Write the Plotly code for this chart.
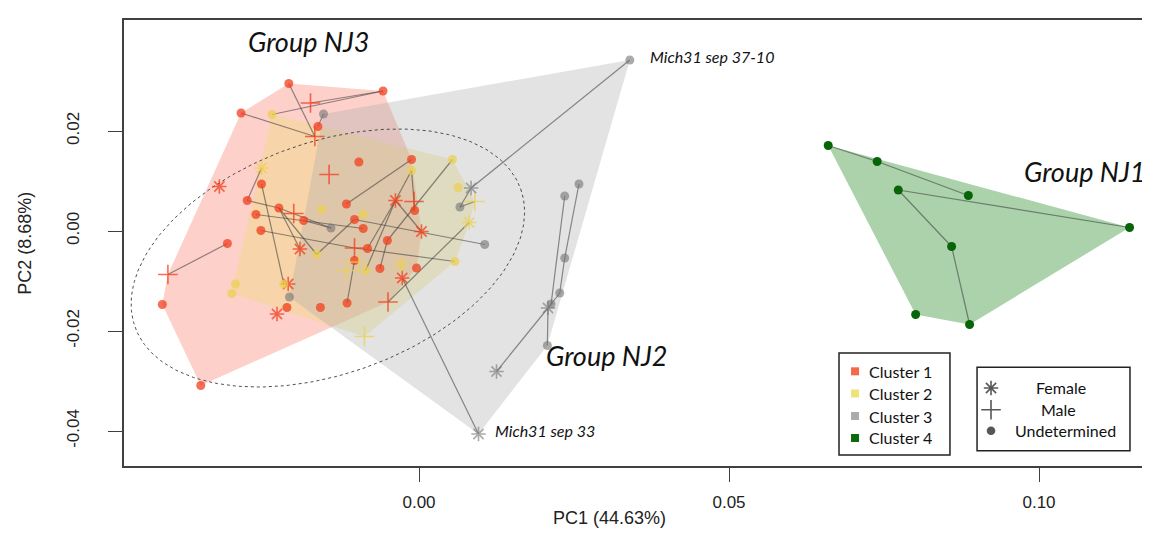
import numpy as np
import plotly.graph_objects as go

# ---- data (PC1, PC2 scores) ----
CLUSTER_NAMES = ["Cluster 1", "Cluster 2", "Cluster 3", "Cluster 4"]
SEX_NAMES = ["Female", "Male", "Undetermined"]

C1_X = [-0.0210, -0.0058, -0.0175, -0.0287, -0.0163, -0.0168, -0.0322, -0.0254, -0.0277, -0.0097,
        -0.0145, -0.0117, -0.0226, -0.0202, -0.0263, -0.0186, -0.0255, -0.0192, -0.0104, -0.0090,
        -0.0104, -0.0309, -0.0012, -0.0038, -0.0008, -0.0007, 0.0004, -0.0051, -0.0083, -0.0104,
        -0.0063, -0.0004, -0.0027, -0.0050, -0.0116, -0.0159, -0.0405, -0.0414, -0.0352, -0.0211,
        -0.0213, -0.0229]
C1_Y = [0.0295, 0.0280, 0.0256, 0.0236, 0.0209, 0.0189, 0.0089, 0.0094, 0.0061, 0.0138,
        0.0113, 0.0054, 0.0046, 0.0035, 0.0033, 0.0021, 0.0001, -0.0036, 0.0023, 0.0005,
        -0.0034, -0.0025, 0.0143, 0.0061, 0.0059, 0.0041, -0.0001, -0.0019, -0.0035, -0.0059,
        -0.0075, -0.0074, -0.0094, -0.0142, -0.0144, -0.0153, -0.0087, -0.0147, -0.0309, -0.0106,
        -0.0153, -0.0166]
C1_SEX = ["U", "U", "M", "U", "U", "M", "F", "U", "U", "U",
          "M", "U", "U", "M", "U", "U", "U", "F", "U", "U",
          "M", "U", "U", "F", "M", "U", "F", "U", "U", "U",
          "U", "U", "F", "M", "U", "U", "M", "U", "U", "F",
          "U", "F"]

C2_X = [-0.0237, -0.0254, -0.0157, -0.0165, -0.0090, -0.0012, 0.0054, 0.0063, 0.0090, 0.0081,
        0.0058, -0.0117, -0.0097, -0.0086, -0.0029, -0.0088, -0.0296, -0.0302, -0.0218]
C2_Y = [0.0233, 0.0126, 0.0043, -0.0047, 0.0033, 0.0121, 0.0143, 0.0087, 0.0059, 0.0017,
        -0.0061, -0.0079, -0.0062, -0.0079, -0.0067, -0.0211, -0.0106, -0.0125, -0.0106]
C2_SEX = ["U", "F", "U", "U", "U", "U", "U", "U", "M", "F",
          "U", "M", "M", "U", "F", "M", "U", "U", "U"]

C3_X = [-0.0154, -0.0142, -0.0209, 0.0084, 0.0066, 0.0106, 0.0340, 0.0096, 0.0125, 0.0208,
        0.0213, 0.0207, 0.0227, 0.0235, 0.0235, 0.0258]
C3_Y = [0.0234, 0.0006, -0.0132, 0.0086, 0.0048, -0.0027, 0.0342, -0.0406, -0.0281, -0.0154,
        -0.0146, -0.0229, -0.0124, -0.0054, 0.0070, 0.0094]
C3_SEX = ["U", "U", "U", "F", "U", "U", "U", "F", "F", "F",
          "U", "U", "U", "U", "U", "U"]

C4_X = [0.0660, 0.0739, 0.0773, 0.0886, 0.1146, 0.0859, 0.0801, 0.0888]
C4_Y = [0.0171, 0.0139, 0.0082, 0.0071, 0.0007, -0.0031, -0.0167, -0.0187]
C4_SEX = ["U"] * 8

# neighbour-joining links: (cluster, point number) pairs, 1-based
NJ_EDGES = [
    ((1, 1), (1, 6)), ((1, 3), (1, 2)), ((2, 1), (1, 2)), ((1, 4), (1, 6)),
    ((3, 1), (1, 5)), ((2, 2), (1, 9)), ((1, 8), (2, 19)), ((1, 9), (1, 13)),
    ((1, 13), (3, 2)), ((1, 13), (2, 4)), ((2, 4), (1, 19)), ((1, 17), (1, 21)),
    ((1, 13), (1, 18)), ((1, 37), (1, 22)), ((1, 12), (1, 23)), ((2, 6), (1, 24)),
    ((2, 6), (1, 26)), ((1, 24), (1, 27)), ((1, 24), (1, 29)), ((1, 24), (2, 14)),
    ((2, 7), (1, 28)), ((1, 31), (1, 28)), ((3, 4), (3, 5)), ((3, 4), (3, 7)),
    ((2, 9), (3, 5)), ((1, 19), (3, 6)), ((1, 21), (2, 11)), ((2, 10), (1, 34)),
    ((1, 30), (1, 35)), ((1, 33), (3, 8)), ((1, 16), (3, 2)), ((1, 15), (1, 20)),
    ((3, 11), (3, 15)), ((3, 10), (3, 13)), ((3, 13), (3, 14)), ((3, 14), (3, 16)),
    ((3, 10), (3, 12)), ((3, 10), (3, 9)),
    ((4, 1), (4, 2)), ((4, 2), (4, 4)), ((4, 3), (4, 5)), ((4, 3), (4, 6)), ((4, 6), (4, 8)),
]

# dotted confidence ellipse: centre and the two half-axis vectors (data units)
ELL_CENTER = (-0.0147, -0.0054)
ELL_AXIS_A = (0.0311, 0.0138)
ELL_AXIS_B = (0.0063, -0.0218)

GROUP_LABELS = ["Group NJ3", "Group NJ2", "Group NJ1"]
GROUP_X = [-0.0178, 0.0303, 0.1073]
GROUP_Y = [0.0380, -0.0248, 0.0120]
SPECIMEN_LABELS = ["Mich31 sep 37-10", "Mich31 sep 33"]
SPECIMEN_X = [0.0370, 0.0120]
SPECIMEN_Y = [0.0350, -0.0398]

# ---- styling ----
FILLS = ["rgba(250,100,80,0.30)", "rgba(235,220,110,0.35)",
         "rgba(170,170,170,0.33)", "rgba(60,150,60,0.43)"]
POINT_COLS = ["rgba(242,62,30,0.75)", "rgba(236,208,80,0.72)",
              "rgba(120,120,120,0.62)", "rgba(8,100,8,1)"]
KEY_COLS = ["#F4694A", "#EFE27A", "#ABABAB", "#0B6A0B"]
SYMBOLS = {"F": "asterisk-open", "M": "cross-thin-open", "U": "circle"}
SIZES = {"F": 12, "M": 14, "U": 9}
AX_FAMILY = "Liberation Sans, Arial, sans-serif"
TICK_FONT = dict(family=AX_FAMILY, size=17, color="#222")
LABEL_FONT = "Lato, Open Sans, sans-serif"

clusters = [(C1_X, C1_Y, C1_SEX), (C2_X, C2_Y, C2_SEX),
            (C3_X, C3_Y, C3_SEX), (C4_X, C4_Y, C4_SEX)]


def convex_hull(xs, ys):
    pts = sorted(set(zip(xs, ys)))

    def cross(o, a, b):
        return (a[0] - o[0]) * (b[1] - o[1]) - (a[1] - o[1]) * (b[0] - o[0])

    lower, upper = [], []
    for p in pts:
        while len(lower) >= 2 and cross(lower[-2], lower[-1], p) <= 0:
            lower.pop()
        lower.append(p)
    for p in reversed(pts):
        while len(upper) >= 2 and cross(upper[-2], upper[-1], p) <= 0:
            upper.pop()
        upper.append(p)
    ring = lower[:-1] + upper[:-1]
    ring.append(ring[0])
    return [p[0] for p in ring], [p[1] for p in ring]


fig = go.Figure()

# hull polygons
for (xs, ys, _), fill in zip(clusters, FILLS):
    hx, hy = convex_hull(xs, ys)
    fig.add_trace(go.Scatter(x=hx, y=hy, mode="lines", fill="toself", fillcolor=fill,
                             line=dict(width=0), hoverinfo="skip", showlegend=False))

# confidence ellipse
t = np.linspace(0, 2 * np.pi, 240)
ex = ELL_CENTER[0] + ELL_AXIS_A[0] * np.cos(t) + ELL_AXIS_B[0] * np.sin(t)
ey = ELL_CENTER[1] + ELL_AXIS_A[1] * np.cos(t) + ELL_AXIS_B[1] * np.sin(t)
fig.add_trace(go.Scatter(x=ex, y=ey, mode="lines", line=dict(color="#3a3a3a", width=0.9, dash="dot"),
                         hoverinfo="skip", showlegend=False))

# NJ links
lx, ly = [], []
for (ca, ia), (cb, ib) in NJ_EDGES:
    lx += [clusters[ca - 1][0][ia - 1], clusters[cb - 1][0][ib - 1], None]
    ly += [clusters[ca - 1][1][ia - 1], clusters[cb - 1][1][ib - 1], None]
fig.add_trace(go.Scatter(x=lx, y=ly, mode="lines", line=dict(color="rgba(55,55,55,0.55)", width=1.2),
                         hoverinfo="skip", showlegend=False))

# points by cluster and sex
for (xs, ys, sex), col, name in zip(clusters, POINT_COLS, CLUSTER_NAMES):
    for s in ["U", "M", "F"]:
        idx = [i for i, v in enumerate(sex) if v == s]
        if not idx:
            continue
        fig.add_trace(go.Scatter(
            x=[xs[i] for i in idx], y=[ys[i] for i in idx], mode="markers",
            marker=dict(symbol=SYMBOLS[s], size=SIZES[s], color=col,
                        line=dict(color=col, width=1.6 if s != "U" else 0)),
            name=name, showlegend=False,
            hovertemplate=name + "<br>PC1 %{x:.3f}<br>PC2 %{y:.3f}<extra></extra>",
        ))

# legend keys drawn on a hidden overlay axis in plot-fraction units
KEY1_Y = [0.2123, 0.1626, 0.1121, 0.0628]
KEY2_Y = [0.1749, 0.1262, 0.0791]
fig.add_trace(go.Scatter(
    x=[0.7070] * 4, y=KEY1_Y, xaxis="x2", yaxis="y2",
    mode="markers", marker=dict(symbol="square", size=8, color=KEY_COLS),
    hoverinfo="skip", showlegend=False))
fig.add_trace(go.Scatter(
    x=[0.8385] * 3, y=KEY2_Y, xaxis="x2", yaxis="y2",
    mode="markers",
    marker=dict(symbol=["asterisk-open", "cross-thin-open", "circle"], size=[12, 14, 7],
                color="#111", line=dict(color="#111", width=1.6)),
    hoverinfo="skip", showlegend=False))

annotations = []
for name, yy in zip(CLUSTER_NAMES, KEY1_Y):
    annotations.append(dict(x=0.7186, y=yy, xref="paper", yref="paper", text=name, showarrow=False,
                            xanchor="left", yanchor="middle",
                            font=dict(family=LABEL_FONT, size=16, color="#111")))
for name, xx, yy in zip(SEX_NAMES, [0.9059, 0.9039, 0.9110], KEY2_Y):
    annotations.append(dict(x=xx, y=yy, xref="paper", yref="paper", text=name, showarrow=False,
                            xanchor="center", yanchor="middle",
                            font=dict(family=LABEL_FONT, size=16, color="#111")))
for txt, xx, yy in zip(GROUP_LABELS, GROUP_X, GROUP_Y):
    annotations.append(dict(x=xx, y=yy, text="<i>" + txt + "</i>", showarrow=False,
                            xanchor="center", yanchor="middle",
                            font=dict(family=LABEL_FONT, size=27, color="#111")))
for txt, xx, yy in zip(SPECIMEN_LABELS, SPECIMEN_X, SPECIMEN_Y):
    annotations.append(dict(x=xx, y=yy, text="<i>" + txt + "</i>", showarrow=False,
                            xanchor="left", yanchor="middle",
                            font=dict(family=LABEL_FONT, size=16, color="#111")))
# axis titles
annotations.append(dict(x=0.470, y=-0.117, xref="paper", yref="paper", text="PC1 (44.63%)",
                        showarrow=False, xanchor="center", yanchor="middle",
                        font=dict(family=AX_FAMILY, size=18, color="#222")))
annotations.append(dict(x=-0.096, y=0.5, xref="paper", yref="paper", text="PC2 (8.68%)",
                        showarrow=False, textangle=-90, xanchor="center", yanchor="middle",
                        font=dict(family=AX_FAMILY, size=18, color="#222")))

shapes = [
    dict(type="rect", xref="paper", yref="paper", x0=0.6915, x1=0.7988, y0=0.0247, y1=0.2534,
         line=dict(color="#222", width=1.5)),
    dict(type="rect", xref="paper", yref="paper", x0=0.8250, x1=0.9729, y0=0.0343, y1=0.2213,
         line=dict(color="#222", width=1.5)),
]

fig.update_layout(
    width=1150, height=533,
    margin=dict(l=116, r=0, t=12, b=75),
    paper_bgcolor="white", plot_bgcolor="white",
    showlegend=False,
    annotations=annotations, shapes=shapes,
    xaxis=dict(range=[-0.04758, 0.11919], showgrid=False, zeroline=False,
               showline=True, mirror=True, linecolor="#404040", linewidth=1.6,
               ticks="outside", ticklen=14, tickwidth=1.3, tickcolor="#404040",
               tickvals=[0.0, 0.05, 0.10], ticktext=["0.00", "0.05", "0.10"],
               tickfont=TICK_FONT, ticklabelstandoff=6),
    yaxis=dict(range=[-0.0470, 0.0422], showgrid=False, zeroline=False,
               showline=True, mirror=False, linecolor="#404040", linewidth=1.6,
               ticks="outside", ticklen=14, tickwidth=1.3, tickcolor="#404040",
               tickvals=[-0.04, -0.02, 0.0, 0.02], ticktext=["-0.04", "-0.02", "0.00", "0.02"],
               tickangle=-90, tickfont=TICK_FONT, ticklabelstandoff=22),
    xaxis2=dict(overlaying="x", range=[0, 1], visible=False, fixedrange=True),
    yaxis2=dict(overlaying="y", range=[0, 1], visible=False, fixedrange=True),
)

fig.write_html("out.html")
